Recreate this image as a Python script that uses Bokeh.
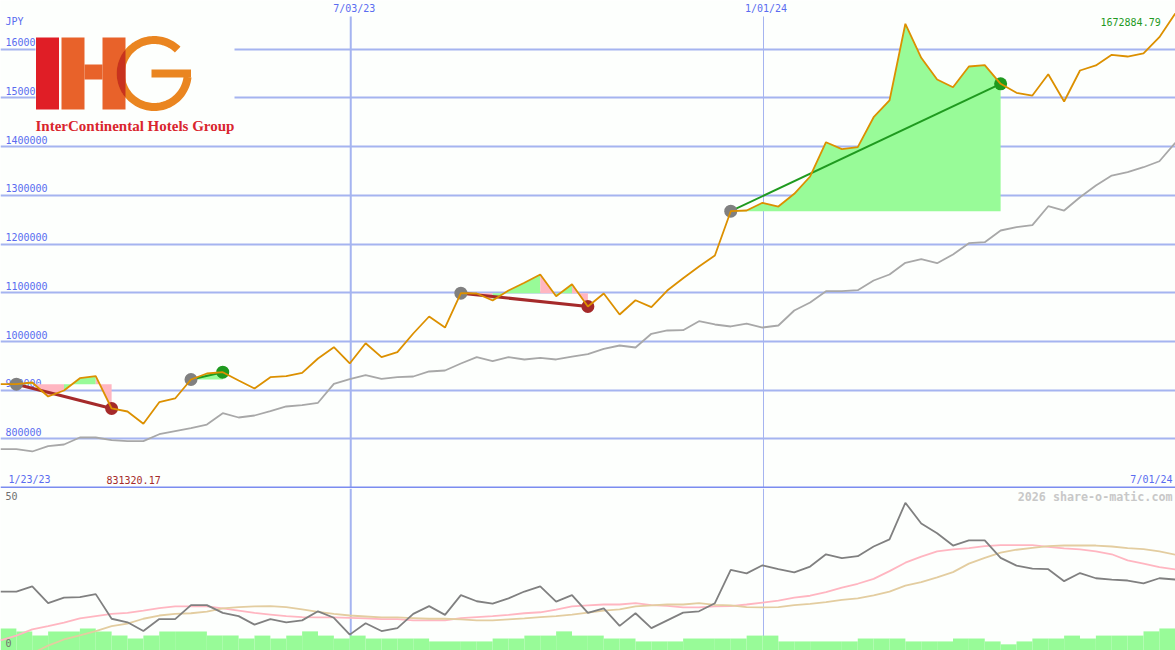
import numpy as np
from itertools import groupby
from bokeh.core.properties import value
from bokeh.embed import file_html
from bokeh.layouts import column
from bokeh.models import FixedTicker, Grid, Range1d, Span
from bokeh.plotting import figure
from bokeh.resources import INLINE

# ---------- data (week index 0 = 1/30/23, one step per week) ----------
price = [912400, 912400, 915900, 887200, 899500, 924700, 928800, 862600, 856400, 831320,
         875500, 883100, 922000, 934400, 937000, 920000, 903600, 926800, 928800, 935800,
         965100, 988300, 954900, 996500, 967800, 978100, 1016400, 1051300, 1028700, 1099100,
         1098500, 1084100, 1104600, 1120400, 1137400, 1092900, 1117500, 1071800, 1098500, 1055400,
         1084700, 1070400, 1104600, 1129800, 1153800, 1176400, 1267300, 1268700, 1284500, 1276900,
         1303000, 1338500, 1408800, 1394500, 1398600, 1460100, 1494400, 1651700, 1582000, 1537400,
         1521600, 1564100, 1566800, 1528600, 1510200, 1504600, 1548300, 1492300, 1555900, 1566200,
         1588100, 1584600, 1590800, 1624200, 1672885]
bench = [779100, 779100, 774400, 785200, 788700, 803100, 803100, 797500, 795500, 795500,
         809800, 816000, 822200, 829700, 852900, 844100, 848200, 857000, 866700, 869300,
         874300, 913200, 922700, 930900, 923500, 926800, 928200, 938500, 940500, 954900,
         967800, 959600, 967800, 963100, 966600, 963100, 969200, 974000, 985000, 991800,
         987700, 1015800, 1022600, 1023200, 1041600, 1034900, 1030800, 1036900, 1028700, 1032800,
         1063600, 1080000, 1103200, 1103200, 1105200, 1125100, 1137400, 1161400, 1168800, 1160600,
         1178500, 1201600, 1203700, 1227700, 1234500, 1238600, 1277500, 1268700, 1296000, 1320000,
         1340500, 1347300, 1357500, 1369800, 1407600]
osc = [18.2, 18.2, 19.8, 14.6, 16.3, 16.5, 17.4, 9.8, 8.7, 6.0,
       9.7, 9.7, 14.0, 14.0, 11.6, 10.6, 8.0, 9.7, 8.7, 9.3,
       12.1, 10.1, 4.9, 8.4, 6.0, 6.9, 11.3, 13.7, 11.0, 17.1,
       15.2, 14.5, 16.1, 18.2, 19.8, 15.1, 17.1, 11.6, 13.0, 7.6,
       11.5, 6.9, 9.3, 11.7, 12.1, 14.6, 24.9, 23.8, 26.3, 25.1,
       24.1, 25.9, 29.7, 28.5, 29.1, 32.1, 34.3, 45.6, 39.2, 36.2,
       32.4, 34.0, 34.0, 28.6, 26.2, 25.3, 25.1, 21.4, 23.9, 22.3,
       21.9, 21.6, 20.7, 22.3, 21.9]
ma_fast = [3.1, 4.6, 6.5, 7.5, 8.6, 9.9, 10.6, 11.3, 11.6, 12.3,
           13.1, 13.6, 13.6, 13.6, 13.0, 12.3, 11.6, 11.1, 10.6, 10.3,
           10.2, 10.2, 10.1, 9.9, 9.7, 9.7, 9.3, 9.3, 9.3, 10.0,
           10.3, 10.6, 11.0, 11.5, 11.8, 12.6, 13.6, 13.9, 14.2, 14.2,
           14.6, 14.0, 13.8, 13.3, 13.3, 13.6, 13.7, 14.2, 14.8, 15.4,
           16.3, 16.9, 18.0, 19.4, 20.6, 22.1, 24.5, 27.1, 29.0, 30.6,
           31.2, 31.6, 32.2, 32.5, 32.5, 32.5, 32.0, 31.5, 31.2, 30.6,
           29.7, 27.8, 26.8, 25.7, 25.0]
ma_slow = [float("nan"), float("nan"), -0.9, 1.5, 3.4, 4.7, 6.0, 7.5, 8.3, 9.8,
           10.8, 11.3, 11.5, 12.0, 13.0, 13.4, 13.6, 13.7, 13.4, 12.7,
           11.9, 11.3, 10.8, 10.5, 10.2, 10.2, 10.0, 9.8, 9.8, 9.6,
           9.3, 9.3, 9.6, 9.9, 10.3, 10.6, 11.1, 11.7, 12.3, 12.7,
           13.6, 13.9, 14.2, 14.2, 14.6, 14.1, 13.9, 13.4, 13.3, 13.4,
           14.0, 14.4, 14.9, 15.6, 16.1, 17.0, 18.2, 20.0, 21.1, 22.6,
           24.2, 26.8, 28.6, 30.2, 31.1, 31.7, 32.2, 32.4, 32.4, 32.4,
           32.1, 31.6, 31.3, 30.6, 29.6]
volume = [6.8, 5.9, 4.6, 5.9, 5.9, 6.8, 5.9, 4.6, 3.7, 4.6,
          5.9, 5.9, 5.9, 4.6, 4.6, 3.7, 4.6, 3.7, 4.6, 5.9,
          4.6, 3.7, 4.6, 3.7, 3.7, 3.7, 3.7, 2.8, 2.8, 2.8,
          2.8, 3.7, 3.7, 4.6, 4.6, 5.9, 4.6, 4.6, 3.7, 3.7,
          2.8, 2.8, 2.8, 3.7, 3.7, 3.7, 3.7, 4.6, 4.6, 2.8,
          2.8, 2.8, 2.8, 2.8, 3.7, 3.7, 3.7, 2.8, 2.8, 2.8,
          3.7, 3.7, 2.8, 1.9, 2.8, 3.7, 3.7, 4.6, 3.7, 4.6,
          4.6, 4.6, 5.9, 6.8]
# (entry week, exit week)
trades = [(1, 7), (12, 14), (29, 37), (46, 63)]
price_ticks = [1600000, 1500000, 1400000, 1300000, 1200000, 1100000, 1000000, 900000, 800000]
price_labels = ["1600000", "1500000", "1400000", "1300000", "1200000", "1100000", "1000000", "900000", "800000"]
date_weeks = [22, 48]
date_labels = ["7/03/23", "1/01/24"]
first_date, last_date = "1/23/23", "7/01/24"
low_label, high_label = "831320.17", "1672884.79"
currency = "JPY"
watermark = "2026 share-o-matic.com"
logo_text = "InterContinental Hotels Group"

# ---------- styling ----------
W, H1, H2 = 1175, 488, 162
STEP = 15.875
NUDGE = 1.0 / STEP
LW = 1.8
BG = "#fdfffd"
GRID = "#a5b4f0"
DIVIDER = "#7b8cf0"
BLUE = "#5a6cf0"
ORANGE = "#dc9000"
SILVER = "#a8a8a8"
DGRAY = "#808080"
BROWN = "#a52a2a"
GREEN = "#1f9a1f"
PALEGREEN = "#98fb98"
LIGHTPINK = "#ffb6c1"
TAN = "#e3cda0"
MONO = value("DejaVu Sans Mono")
PRICE_LO, PRICE_HI = 698460, 1699500
x_range = Range1d(0, W / STEP)


def make_fig(h, y0, y1, px_top, px_bottom):
    p = figure(width=W, height=h, output_backend="svg", toolbar_location=None,
               x_range=x_range, y_range=Range1d(y0, y1),
               x_axis_location=None, y_axis_location=None, min_border=0,
               outline_line_color=None, background_fill_color=BG, border_fill_color=BG)
    p.grid.visible = False
    p.extra_x_ranges = {"px": Range1d(0, W)}
    p.extra_y_ranges = {"px": Range1d(px_bottom, px_top)}
    return p


def labels(p, xs, ys, texts, color, align="left", size="10px", style="normal"):
    p.text(xs, ys, text=texts, x_range_name="px", y_range_name="px", text_font=MONO,
           text_font_size=size, text_color=color, text_align=align, text_baseline="middle",
           text_font_style=style)


# ---------- price panel ----------
p1 = make_fig(H1, PRICE_LO, PRICE_HI, 0, H1)
weeks = np.arange(len(price))
p1.add_layout(Grid(dimension=1, ticker=FixedTicker(ticks=price_ticks), grid_line_color=GRID,
                   grid_line_width=2))
top_end = 1666700
p1.segment([date_weeks[0] + NUDGE], [PRICE_LO], [date_weeks[0] + NUDGE], [top_end], line_color=GRID, line_width=2)
p1.segment([date_weeks[1] + NUDGE], [PRICE_LO], [date_weeks[1] + NUDGE], [top_end], line_color=GRID, line_width=1)
p1.add_layout(Span(location=700500, dimension="width", line_color=DIVIDER, line_width=2))

p1.text(np.full(len(price_ticks), 5.0), price_ticks, text=price_labels, x_range_name="px",
        text_font=MONO, text_font_size="10px", text_color=BLUE, text_baseline="middle", y_offset=-7)

# each weekly segment of a trade is coloured by where that week closes against the entry price
for a, b in trades:
    e = price[a]
    segs = list(range(a, b))
    for up, grp in groupby(segs, key=lambda i: price[i + 1] >= e):
        grp = list(grp)
        xs = list(range(grp[0], grp[-1] + 2))
        p1.varea(xs, [e] * len(xs), [price[i] for i in xs],
                 fill_color=PALEGREEN if up else LIGHTPINK)

p1.line(weeks, bench, line_color=SILVER, line_width=LW)

for a, b in trades:
    win = price[b] > price[a]
    col = GREEN if win else BROWN
    p1.line([a, b], [price[a], price[b]], line_color=col, line_width=2 if win else 3)
    p1.scatter([a], [price[a]], size=13, fill_color=DGRAY, line_color=None)
    p1.scatter([b], [price[b]], size=13, fill_color=col, line_color=None)

p1.line(weeks, price, line_color=ORANGE, line_width=LW)

labels(p1, [5], [21], [currency], BLUE)
labels(p1, [1100], [21], [high_label], GREEN)
labels(p1, [8], [479], [first_date], BLUE)
labels(p1, [106], [479], [low_label], BROWN)
labels(p1, [1172], [479], [last_date], BLUE, align="right")
labels(p1, [date_weeks[0] * STEP + 4.5, date_weeks[1] * STEP + 3.5], [8, 8], date_labels, BLUE, align="center")

# logo, drawn on the pixel scale
LOGO_RED, LOGO_ORANGE, LOGO_AMBER, LOGO_DARK = "#e01e26", "#e8622a", "#ea8520", "#c8321e"
kw = dict(x_range_name="px", y_range_name="px", line_color=None)
p1.quad(left=[35], right=[234], top=[34], bottom=[135], fill_color=BG, **kw)
p1.quad(left=[35.5], right=[58.5], top=[37], bottom=[109], fill_color=LOGO_RED, **kw)
p1.quad(left=[61, 102, 84], right=[84, 125, 102], top=[37, 37, 64], bottom=[109, 109, 79],
        fill_color=LOGO_ORANGE, **kw)
cx, cy, Ro, Ri = 153.7, 73.0, 37.5, 29.5
t = np.radians(np.linspace(45.5, 354, 120))
gx = np.concatenate([cx + Ro * np.cos(t), cx + Ri * np.cos(t[::-1])])
gy = np.concatenate([cy - Ro * np.sin(t), cy - Ri * np.sin(t[::-1])])
p1.patch(gx, gy, fill_color=LOGO_AMBER, **kw)
p1.quad(left=[151], right=[190.5], top=[69], bottom=[77], fill_color=LOGO_AMBER, **kw)
t0 = np.arccos((125 - cx) / Ro)
t = np.linspace(t0, 2 * np.pi - t0, 40)
p1.patch(cx + Ro * np.cos(t), cy - Ro * np.sin(t), fill_color=LOGO_DARK, **kw)
p1.text([35], [125.5], text=[logo_text], x_range_name="px", y_range_name="px",
        text_font=value("Liberation Serif"), text_font_size="15px", text_font_style="bold",
        text_color="#d9252e", text_baseline="middle")

# ---------- oscillator panel ----------
p2 = make_fig(H2, 0, 50, 488, 650)
bar_weeks = np.arange(len(volume)) + 0.5
p2.segment([date_weeks[0] + NUDGE], [0], [date_weeks[0] + NUDGE], [50], line_color=GRID, line_width=2)
p2.segment([date_weeks[1] + NUDGE], [0], [date_weeks[1] + NUDGE], [50], line_color=GRID, line_width=1)
p2.vbar(x=bar_weeks, width=1.0, top=volume, bottom=0, fill_color=PALEGREEN, line_color=None)
p2.line(weeks, ma_fast, line_color=LIGHTPINK, line_width=LW)
p2.line(weeks, ma_slow, line_color=TAN, line_width=LW)
p2.line(weeks, osc, line_color=DGRAY, line_width=LW)
labels(p2, [5, 5], [495.5, 642], ["50", "0"], "#707070")
labels(p2, [1172], [496], [watermark], "#c8c8c8", align="right", size="11.7px", style="bold")

page = column(p1, p2, spacing=0)
open("out.html", "w").write(file_html(page, INLINE))
